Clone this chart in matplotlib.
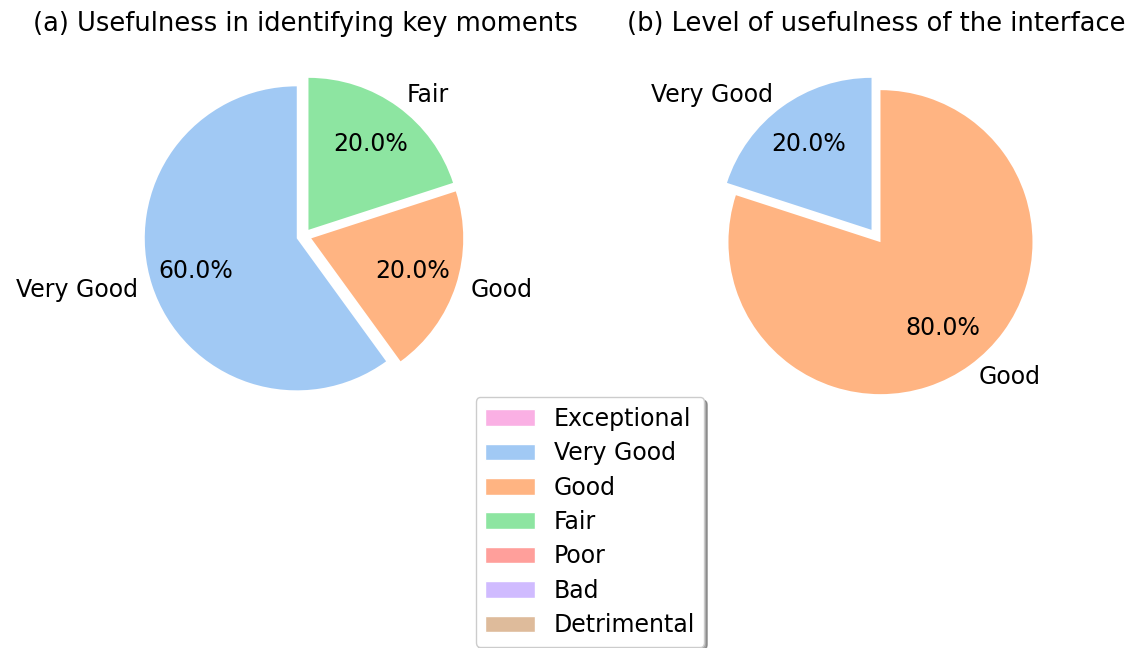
import matplotlib.pyplot as plt
import matplotlib.patches as mpatches
import seaborn as sns

# rating scale and its colours (seaborn pastel)
pastel = sns.color_palette('pastel')
levels = ['Exceptional', 'Very Good', 'Good', 'Fair', 'Poor', 'Bad', 'Detrimental']
level_colors = {
    'Exceptional': pastel[6],
    'Very Good': pastel[0],
    'Good': pastel[1],
    'Fair': pastel[2],
    'Poor': pastel[3],
    'Bad': pastel[4],
    'Detrimental': pastel[5],
}

# (a) key moments
labels_a = ['Very Good', 'Good', 'Fair']
counts_a = [3, 1, 1]
# (b) interface
labels_b = ['Very Good', 'Good']
counts_b = [1, 4]

plt.rcParams['font.size'] = 17

fig = plt.figure(figsize=(11.33, 6.48), dpi=100)
W, H = 1133, 648
R = 152  # pie radius in pixels


def pie_axes(cx, cy):
    side = 2.5 * R
    return fig.add_axes([(cx - side / 2) / W, (H - cy - side / 2) / H, side / W, side / H])


ax1 = pie_axes(304, 236)
ax2 = pie_axes(876, 236)

for ax, labels, counts in [(ax1, labels_a, counts_a), (ax2, labels_b, counts_b)]:
    ax.pie(counts, labels=labels, colors=[level_colors[l] for l in labels],
           autopct='%1.1f%%', startangle=90, explode=[0.05] * len(counts),
           pctdistance=0.7, textprops={'fontsize': 17})
    ax.set_xlim(-1.25, 1.25)
    ax.set_ylim(-1.25, 1.25)
    ax.set_aspect('equal')

fig.text(305 / W, 1 - 24 / H, '(a) Usefulness in identifying key moments',
         ha='center', va='center', fontsize=18.5)
fig.text(876 / W, 1 - 24 / H, '(b) Level of usefulness of the interface',
         ha='center', va='center', fontsize=18.5)

handles = [mpatches.Patch(facecolor=level_colors[l], edgecolor='white', label=l) for l in levels]
fig.legend(handles=handles, loc='center', bbox_to_anchor=(590 / W, 1 - 522 / H),
           shadow=True, fontsize=17, framealpha=1, labelspacing=0.44,
           handlelength=2.1)

plt.savefig('out.png', dpi=100)
